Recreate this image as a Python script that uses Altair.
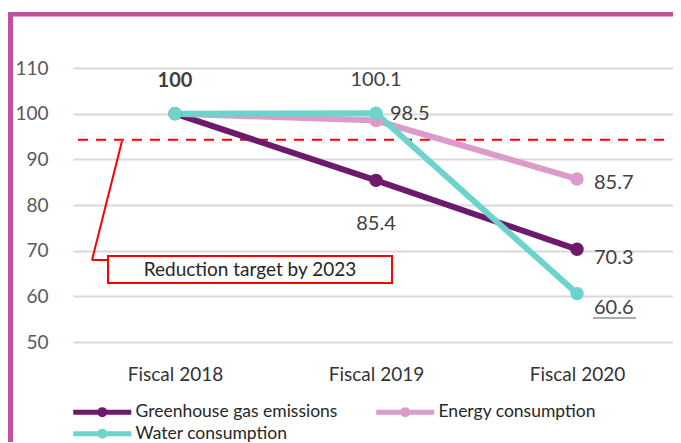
import altair as alt
import pandas as pd

years = ["Fiscal 2018", "Fiscal 2019", "Fiscal 2020"]
series = ["Greenhouse gas emissions", "Energy consumption", "Water consumption"]
ghg = [100, 85.4, 70.3]
energy = [100, 98.5, 85.7]
water = [100, 100.1, 60.6]
target_value = 94.3
target_label = ["Reduction target by 2023"]
y_ticks = [50, 60, 70, 80, 90, 100, 110]
colors = ["#6E1A6C", "#DC9CCB", "#6DD3CD"]

# label placement styles (not data)
placement = {
    ("Greenhouse gas emissions", "Fiscal 2018"): "above_bold",
    ("Greenhouse gas emissions", "Fiscal 2019"): "below",
    ("Greenhouse gas emissions", "Fiscal 2020"): "right_low",
    ("Energy consumption", "Fiscal 2019"): "right_up",
    ("Energy consumption", "Fiscal 2020"): "right_mid",
    ("Water consumption", "Fiscal 2019"): "above",
    ("Water consumption", "Fiscal 2020"): "right_lower",
}
styles = {
    "above_bold": dict(align="center", dx=0, dy=-33, fontWeight="bold"),
    "above": dict(align="center", dx=0, dy=-33),
    "below": dict(align="center", dx=0, dy=44),
    "right_up": dict(align="left", dx=14, dy=-7),
    "right_mid": dict(align="left", dx=17, dy=4),
    "right_low": dict(align="left", dx=17, dy=9),
    "right_lower": dict(align="left", dx=17, dy=14),
}

rows = []
for s, vals in zip(series, [ghg, energy, water]):
    for i, (yr, v) in enumerate(zip(years, vals)):
        rows.append({"year": yr, "idx": i, "series": s, "value": v,
                     "label": f"{v:g}", "pos": placement.get((s, yr), "none")})
df = pd.DataFrame(rows)

FONT = "Lato"
W, H = 600, 274
X_DOMAIN = [-0.50746, 2.47761]

label_expr = "[" + ",".join(f"'{y}'" for y in years) + "][datum.value]"

x_enc = alt.X("idx:Q", scale=alt.Scale(domain=X_DOMAIN, nice=False, zero=False),
              axis=alt.Axis(title=None, values=list(range(len(years))), labelExpr=label_expr,
                            labelAngle=0, domain=False, ticks=False, grid=False,
                            labelFont=FONT, labelFontSize=19, labelColor="#333333",
                            labelPadding=23))
y_enc = alt.Y("value:Q", scale=alt.Scale(domain=[50, 110], nice=False, zero=False),
              axis=alt.Axis(title=None, values=y_ticks, domain=False, ticks=False,
                            labelFont=FONT, labelFontSize=19, labelColor="#595959",
                            labelPadding=25, gridColor="#D9D9D9", gridWidth=2))

# legend symbol: line with a dot, drawn in units of r = sqrt(symbolSize)/2 = 5px
legend_path = ("M-1.5,0H10.1M3.8,0A0.5,0.5 0 1,0 4.8,0A0.5,0.5 0 1,0 3.8,0")

base = alt.Chart(df)

lines = base.mark_line(strokeWidth=6).encode(
    x=x_enc, y=y_enc,
    color=alt.Color("series:N", sort=series,
                    scale=alt.Scale(domain=series, range=colors),
                    legend=alt.Legend(title=None, orient="none", legendX=-1, legendY=335,
                                      columns=2, direction="horizontal",
                                      symbolType=legend_path, symbolSize=100,
                                      symbolStrokeWidth=5, labelFont=FONT, labelFontSize=17.5,
                                      labelColor="#262626", columnPadding=28, rowPadding=-8,
                                      labelOffset=46, symbolOffset=0, labelLimit=400)),
    order=alt.Order("idx:Q"),
)

points = base.mark_circle(size=180, opacity=1).encode(
    x="idx:Q", y="value:Q",
    color=alt.Color("series:N", sort=series, legend=None),
)

text_layers = []
for key, st in styles.items():
    text_layers.append(
        base.transform_filter(alt.datum.pos == key).mark_text(
            font=FONT, fontSize=20, color="#404040", baseline="middle", **st
        ).encode(x="idx:Q", y="value:Q", text="label:N")
    )

one = pd.DataFrame({"t": target_label})

target = alt.Chart(pd.DataFrame({"v": [target_value]})).mark_rule(
    color="#FF0000", strokeWidth=2, strokeDash=[10, 8]
).encode(y="v:Q", x=alt.value(5), x2=alt.value(599))

leader1 = alt.Chart(one).mark_rule(color="#FF0000", strokeWidth=2).encode(
    x=alt.value(49), y=alt.value(73), x2=alt.value(19), y2=alt.value(192))
leader2 = alt.Chart(one).mark_rule(color="#FF0000", strokeWidth=2).encode(
    x=alt.value(19), y=alt.value(192), x2=alt.value(35), y2=alt.value(192))
box = alt.Chart(one).mark_rect(fill="white", stroke="#FF0000", strokeWidth=2).encode(
    x=alt.value(35), x2=alt.value(319), y=alt.value(188), y2=alt.value(215))
box_text = alt.Chart(one).mark_text(font=FONT, fontSize=19, color="#262626",
                                    baseline="middle").encode(
    x=alt.value(177), y=alt.value(202), text="t:N")

underline = alt.Chart(one).mark_rule(color="#595959", strokeWidth=1).encode(
    x=alt.value(520), x2=alt.value(563), y=alt.value(250))

frame_top = alt.Chart(one).mark_rule(color="#C0519E", strokeWidth=4.5).encode(
    x=alt.value(-65), x2=alt.value(620), y=alt.value(-53.7))
frame_left = alt.Chart(one).mark_rule(color="#C0519E", strokeWidth=5).encode(
    x=alt.value(-62.5), y=alt.value(-56), y2=alt.value(380))

chart = alt.layer(
    target, lines, points, *text_layers, leader1, leader2, box, box_text,
    underline, frame_top, frame_left
).properties(
    width=W, height=H,
    autosize=alt.AutoSizeParams(type="none"),
    padding={"left": 65, "top": 60, "right": 0, "bottom": 100},
).configure_view(stroke=None)

chart.save("out.html", embed_options={"renderer": "svg", "actions": False})
